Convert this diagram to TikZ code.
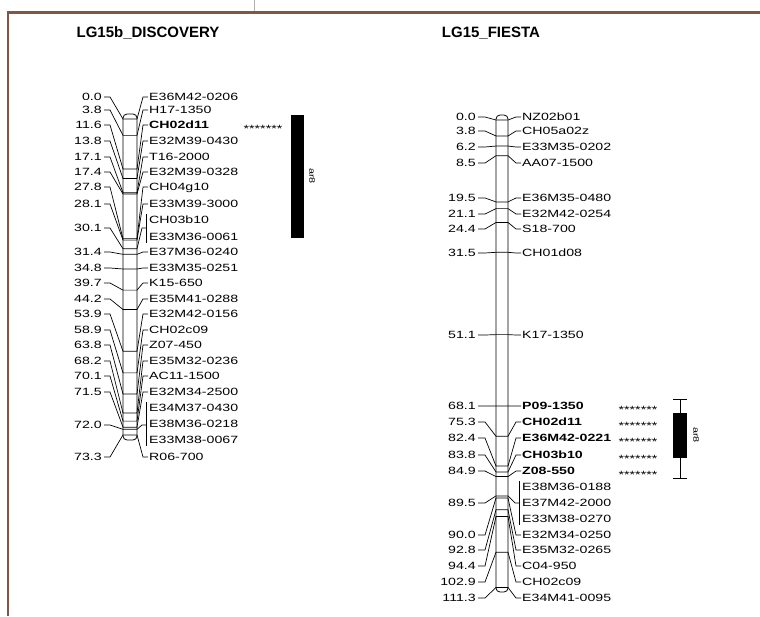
\documentclass[tikz,border=0pt]{standalone}
\usepackage{fontspec}
\setmainfont{Liberation Sans}
\newfontfamily\mkfont[FakeStretch=1.35]{Liberation Sans}
\definecolor{framebrown}{RGB}{128,86,70}
\begin{document}
\begin{tikzpicture}[x=1pt,y=-1pt,
    lgtitle/.style={font=\fontsize{15}{17}\selectfont\bfseries},
    cmnum/.style={anchor=east,inner sep=0pt,text height=7.5pt,text depth=0pt,font=\mkfont\fontsize{10.5}{12}\selectfont},
    mkname/.style={anchor=west,inner sep=0pt,text height=7.5pt,text depth=0pt,font=\mkfont\fontsize{10.5}{12}\selectfont},
    stars/.style={inner sep=0pt,font=\mkfont\fontsize{10.5}{12}\selectfont},
    link/.style={line width=0.7pt},
    chrom/.style={draw,line width=0.8pt,fill=white,rounded corners=4pt},
    qtlname/.style={inner sep=0pt,font=\mkfont\fontsize{8}{9}\selectfont,rotate=-90}]
\useasboundingbox (0,0) rectangle (760,616);
% frame
\draw[framebrown,line width=2.5pt] (8,616) -- (8,12.5) -- (760,12.5);
\draw[gray!60,line width=0.8pt] (254,0) -- (254,11);
% titles
\node[lgtitle] (ttlD) at (148,33) {LG15b\_DISCOVERY};
\node[lgtitle] (ttlF) at (491,33) {LG15\_FIESTA};

% LG15b_DISCOVERY
\draw[chrom] (123,114) rectangle (137,440);
\foreach \pos/\ly/\name [count=\i] in {0.0/97/E36M42-0206, 3.8/110/H17-1350, 11.6/125/\textbf{CH02d11},
    13.8/141/E32M39-0430, 17.1/157/T16-2000, 17.4/172/E32M39-0328, 27.8/187/CH04g10,
    28.1/204/E33M39-3000, 31.4/252/E37M36-0240, 34.8/268/E33M35-0251, 39.7/283/K15-650,
    44.2/299/E35M41-0288, 53.9/314/E32M42-0156, 58.9/330/CH02c09, 63.8/345/Z07-450,
    68.2/361/E35M32-0236, 70.1/376/AC11-1500, 71.5/392/E32M34-2500, 73.3/457/R06-700}{
  \pgfmathsetmacro\py{119+4.31*\pos}
  \node[cmnum] (dn\i) at (102,\ly) {\pos};
  \node[mkname] (dm\i) at (149,\ly) {\name};
  \draw[link] ([xshift=2pt]dn\i.east) -- (110,\ly) -- (123,\py) -- (137,\py) -- (143,\ly) -- ([xshift=-1pt]dm\i.west);
}
% 30.1 group
\pgfmathsetmacro\py{119+4.31*30.1}
\node[cmnum] (dnA) at (102,228) {30.1};
\node[mkname] (dmA1) at (149,220) {CH03b10};
\node[mkname] (dmA2) at (149,237) {E33M36-0061};
\coordinate (brA) at (146,228);
\draw[link] ([xshift=-3pt,yshift=2pt]dmA1.north west) -- ([xshift=-3pt,yshift=-2pt]dmA2.south west);
\draw[link] ([xshift=2pt]dnA.east) -- (110,228) -- (123,\py) -- (137,\py) -- (142,228) -- (brA);
% 72.0 group
\pgfmathsetmacro\py{119+4.31*72.0}
\node[cmnum] (dnB) at (102,425) {72.0};
\node[mkname] (dmB1) at (149,408) {E34M37-0430};
\node[mkname] (dmB2) at (149,424) {E38M36-0218};
\node[mkname] (dmB3) at (149,440) {E33M38-0067};
\coordinate (brB) at (146,425);
\draw[link] ([xshift=-3pt,yshift=2pt]dmB1.north west) -- ([xshift=-3pt,yshift=-2pt]dmB3.south west);
\draw[link] ([xshift=2pt]dnB.east) -- (110,425) -- (123,\py) -- (137,\py) -- (142,425) -- (brB);
% QTL
\node[stars] (stD) at (263,129) {*******};
\fill (291,115) rectangle (304,238);
\node[qtlname] (qD) at (312,176) {ar8};

% LG15_FIESTA
\draw[chrom] (496,115) rectangle (508,592);
\foreach \pos/\ly/\name [count=\i] in {0.0/117/NZ02b01, 3.8/131/CH05a02z, 6.2/147/E33M35-0202,
    8.5/163/AA07-1500, 19.5/198/E36M35-0480, 21.1/214/E32M42-0254, 24.4/229/S18-700,
    31.5/253/CH01d08, 51.1/335/K17-1350, 68.1/406/\textbf{P09-1350}, 75.3/422/\textbf{CH02d11},
    82.4/438/\textbf{E36M42-0221}, 83.8/455/\textbf{CH03b10}, 84.9/471/\textbf{Z08-550},
    90.0/535/E32M34-0250, 92.8/550/E35M32-0265, 94.4/566/C04-950, 102.9/582/CH02c09,
    111.3/598/E34M41-0095}{
  \pgfmathsetmacro\py{120+4.2*\pos}
  \node[cmnum] (fn\i) at (476,\ly) {\pos};
  \node[mkname] (fm\i) at (522,\ly) {\name};
  \draw[link] ([xshift=2pt]fn\i.east) -- (485,\ly) -- (496,\py) -- (508,\py) -- (516,\ly) -- ([xshift=-1pt]fm\i.west);
}
% 89.5 group
\pgfmathsetmacro\py{120+4.2*89.5}
\node[cmnum] (fnA) at (476,503) {89.5};
\node[mkname] (fmA1) at (522,487) {E38M36-0188};
\node[mkname] (fmA2) at (522,503) {E37M42-2000};
\node[mkname] (fmA3) at (522,519) {E33M38-0270};
\coordinate (brF) at (519,503);
\draw[link] ([xshift=-3pt,yshift=2pt]fmA1.north west) -- ([xshift=-3pt,yshift=-2pt]fmA3.south west);
\draw[link] ([xshift=2pt]fnA.east) -- (485,503) -- (496,\py) -- (508,\py) -- (515,503) -- (brF);
% QTL
\foreach \ly [count=\i] in {406,422,438,455,471}{
  \node[stars] (stF\i) at (638,\ly+4) {*******};
}
\coordinate (whT) at (680,399);
\coordinate (whB) at (680,478);
\draw[line width=0.8pt] (whT) -- (whB);
\draw[line width=0.8pt] ([xshift=-7pt]whT) -- ([xshift=7pt]whT);
\draw[line width=0.8pt] ([xshift=-7pt]whB) -- ([xshift=7pt]whB);
\fill (673,413) rectangle (687,458);
\node[qtlname] (qF) at (696,435) {ar8};
\end{tikzpicture}
\end{document}
